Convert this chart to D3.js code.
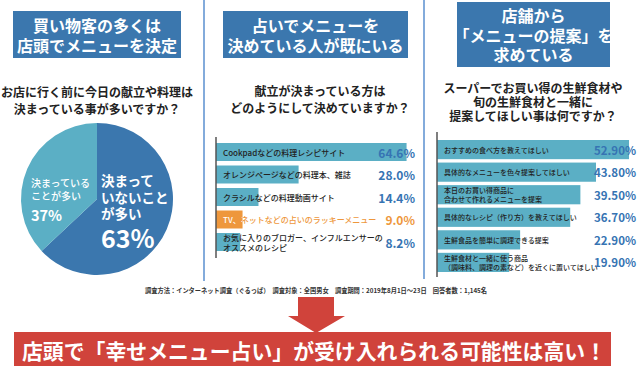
<!DOCTYPE html>
<html>
<head>
<meta charset="utf-8">
<script src="https://cdn.jsdelivr.net/npm/d3@7"></script>
<style>
  body { margin: 0; background: #fff; }
  svg { display: block; font-family: "Noto Sans CJK JP", "Noto Sans", sans-serif; }
</style>
</head>
<body>
<svg id="chart" width="640" height="367"></svg>
<script>
// pie (left panel)
const pieLabels = ["決まっていないことが多い", "決まっていることが多い"];
const pieValues = [63, 37];

// middle panel
const menuWays = [
  ["Cookpadなどの料理レシピサイト"],
  ["オレンジページなどの料理本、雑誌"],
  ["クラシルなどの料理動画サイト"],
  ["TV、ネットなどの占いのラッキーメニュー"],
  ["お気に入りのブロガー、インフルエンサーの", "オススメのレシピ"]
];
const menuWayValues = [64.6, 28.0, 14.4, 9.0, 8.2];

// right panel
const wishes = [
  ["おすすめの食べ方を教えてほしい"],
  ["具体的なメニューを色々提案してほしい"],
  ["本日のお買い得商品に", "合わせて作れるメニューを提案"],
  ["具体的なレシピ（作り方）を教えてほしい"],
  ["生鮮食品を簡単に調理できる提案"],
  ["生鮮食材と一緒に使う商品", "（調味料、調理の素など）を近くに置いてほしい"]
];
const wishValues = [52.9, 43.8, 39.5, 36.7, 22.9, 19.9];

const blue = "#3b77ae", teal = "#5bafc5", orange = "#ee973c", valBlue = "#3674b3";

const svg = d3.select("#chart");
const defs = svg.append("defs");

// dividers
svg.append("line").attr("x1", 204).attr("x2", 204).attr("y1", 0).attr("y2", 281)
  .attr("stroke", "#5a8fcf").attr("stroke-width", 1.5);
svg.append("line").attr("x1", 424).attr("x2", 424).attr("y1", 0).attr("y2", 279)
  .attr("stroke", "#5a8fcf").attr("stroke-width", 1.5);

// title boxes
function titleBox(x, y, w, h, lines, cy, lh) {
  svg.append("rect").attr("x", x).attr("y", y).attr("width", w).attr("height", h).attr("fill", blue);
  lines.forEach((t, i) => {
    svg.append("text").attr("x", x + w / 2).attr("y", cy + i * lh)
      .attr("text-anchor", "middle").attr("dominant-baseline", "central")
      .attr("fill", "#fff").attr("font-size", 16).attr("font-weight", 700).text(t);
  });
}
titleBox(13, 11, 168, 47, ["買い物客の多くは", "店頭でメニューを決定"], 25, 20);
titleBox(223, 11, 185, 47, ["占いでメニューを", "決めている人が既にいる"], 25, 20);
titleBox(457, 2, 153, 65, ["店舗から", "「メニューの提案」を", "求めている"], 15, 19.5);

function question(x, y, lines, lh) {
  lines.forEach((t, i) => {
    svg.append("text").attr("x", x).attr("y", y + i * lh)
      .attr("text-anchor", "middle").attr("dominant-baseline", "central")
      .attr("fill", "#222").attr("font-size", 12).attr("font-weight", 700).text(t);
  });
}
question(97, 91, ["お店に行く前に今日の献立や料理は", "決まっている事が多いですか？"], 17);
question(320, 90, ["献立が決まっている方は", "どのようにして決めていますか？"], 17);
question(533, 87, ["スーパーでお買い得の生鮮食材や", "旬の生鮮食材と一緒に", "提案してほしい事は何ですか？"], 14);

// pie
const pie = d3.pie().sort(null)(pieValues);
const arc = d3.arc().innerRadius(0).outerRadius(76);
const pg = svg.append("g").attr("transform", "translate(97,199)");
pg.selectAll("path").data(pie).enter().append("path")
  .attr("d", arc).attr("fill", (d, i) => i === 0 ? blue : teal);

const bigLines = ["決まって", "いないこと", "が多い"];
bigLines.forEach((t, i) => {
  svg.append("text").attr("x", 101).attr("y", 180 + i * 16.5).attr("dominant-baseline", "central")
    .attr("fill", "#fff").attr("font-size", 13.5).attr("font-weight", 700).text(t);
});
svg.append("text").attr("x", 101).attr("y", 237).attr("dominant-baseline", "central")
  .attr("fill", "#fff").attr("font-size", 25).attr("font-weight", 700).text(pieValues[0] + "%");
["決まっている", "ことが多い"].forEach((t, i) => {
  svg.append("text").attr("x", 31).attr("y", 182 + i * 13).attr("dominant-baseline", "central")
    .attr("fill", "#fff").attr("font-size", 10).attr("font-weight", 500).text(t);
});
svg.append("text").attr("x", 31).attr("y", 214).attr("dominant-baseline", "central")
  .attr("fill", "#fff").attr("font-size", 14.5).attr("font-weight", 700).text(pieValues[1] + "%");

// bar panels
function barPanel(opt) {
  const y = d3.scaleBand().domain(d3.range(opt.values.length)).range(opt.yRange)
    .paddingInner(opt.pad).paddingOuter(0);
  const x = d3.scaleLinear().domain([0, 100]).range(opt.xRange);
  const g = svg.append("g");
  g.selectAll("rect").data(opt.values).enter().append("rect")
    .attr("x", x(0)).attr("y", (d, i) => y(i))
    .attr("width", d => x(d) - x(0)).attr("height", y.bandwidth())
    .attr("fill", (d, i) => i === opt.hi ? orange : teal);
  opt.labels.forEach((lines, i) => {
    const cy = y(i) + y.bandwidth() / 2;
    const addLines = (fill, clip) => {
      lines.forEach((t, j) => {
        const tx = g.append("text").attr("x", x(0) + opt.labelPad)
          .attr("y", cy + (j - (lines.length - 1) / 2) * (opt.fs + 2))
          .attr("dominant-baseline", "central")
          .attr("font-size", opt.fs).attr("font-weight", 500)
          .attr("fill", fill).text(t);
        if (clip) tx.attr("clip-path", `url(#${clip})`);
      });
    };
    if (i === opt.hi) {
      const id = "clip" + opt.id + i;
      defs.append("clipPath").attr("id", id).append("rect")
        .attr("x", x(0)).attr("y", y(i)).attr("width", x(opt.values[i]) - x(0)).attr("height", y.bandwidth());
      addLines(orange, null);
      addLines("#fff", id);
    } else {
      addLines("#222", null);
    }
    g.append("text").attr("x", opt.valX).attr("y", cy)
      .attr("text-anchor", "end").attr("dominant-baseline", "central")
      .attr("font-size", opt.vfs).attr("font-weight", 700)
      .attr("fill", i === opt.hi ? orange : valBlue)
      .text(opt.values[i].toFixed(opt.dec) + "%");
  });
  g.append("line").attr("x1", x(0)).attr("x2", x(0))
    .attr("y1", opt.axis[0]).attr("y2", opt.axis[1])
    .attr("stroke", "#555").attr("stroke-width", 1.5);
}

barPanel({
  id: "a", values: menuWayValues, labels: menuWays, hi: 3,
  yRange: [143, 251], pad: 0.2, xRange: [216, 511],
  labelPad: 7, fs: 8, vfs: 12, valX: 415, dec: 1, axis: [137, 258]
});
barPanel({
  id: "b", values: wishValues, labels: wishes, hi: -1,
  yRange: [140, 272], pad: 0.15, xRange: [437, 800],
  labelPad: 7, fs: 7, vfs: 11.5, valX: 636, dec: 2, axis: [132, 277]
});

// survey note
svg.append("text").attr("x", 316).attr("y", 290).attr("text-anchor", "middle")
  .attr("dominant-baseline", "central").attr("font-size", 6.5).attr("font-weight", 700)
  .attr("fill", "#333").attr("textLength", 342).attr("lengthAdjust", "spacingAndGlyphs")
  .text("調査方法：インターネット調査（ぐるっぱ）　調査対象：全国男女　調査期間：2019年8月1日～23日　回答者数：1,145名");

// arrow
const red = "#d0433b";
svg.append("path").attr("d", "M298,297 L334,297 L334,316 L345,316 L316,333 L288,316 L298,316 Z").attr("fill", red);

// bottom banner
svg.append("rect").attr("x", 14).attr("y", 332).attr("width", 597).attr("height", 34).attr("fill", red);
svg.append("text").attr("x", 314).attr("y", 350).attr("text-anchor", "middle")
  .attr("dominant-baseline", "central").attr("font-size", 21).attr("font-weight", 700)
  .attr("fill", "#fff").attr("textLength", 584).attr("lengthAdjust", "spacingAndGlyphs")
  .text("店頭で「幸せメニュー占い」が受け入れられる可能性は高い！");
</script>
</body>
</html>
